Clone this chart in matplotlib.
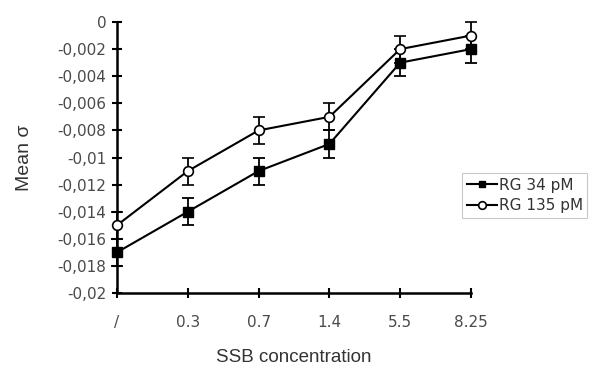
import numpy as np
from matplotlib import pyplot as plt
from matplotlib.lines import Line2D

categories = ['/', '0.3', '0.7', '1.4', '5.5', '8.25']
rg34 = [-0.017, -0.014, -0.011, -0.009, -0.003, -0.002]
rg34_err = [0.001, 0.001, 0.001, 0.001, 0.001, 0.001]
rg135 = [-0.015, -0.011, -0.008, -0.007, -0.002, -0.001]
rg135_err = [0.001, 0.001, 0.001, 0.001, 0.001, 0.001]
yticks = [0, -0.002, -0.004, -0.006, -0.008, -0.01, -0.012, -0.014, -0.016, -0.018, -0.02]
ytick_labels = ['0', '-0,002', '-0,004', '-0,006', '-0,008', '-0,01', '-0,012',
                '-0,014', '-0,016', '-0,018', '-0,02']

fig = plt.figure(figsize=(5.89, 3.67), dpi=100)
ax = fig.add_axes([0.1986, 0.2016, 0.601, 0.7384])

x = np.arange(len(categories))
ax.errorbar(x, rg34, yerr=rg34_err, color='black', marker='s', markersize=6.5,
            markerfacecolor='black', linewidth=1.5, elinewidth=1.3, capsize=4,
            capthick=1.3, clip_on=False, zorder=3)
ax.errorbar(x, rg135, yerr=rg135_err, color='black', marker='o', markersize=7,
            markerfacecolor='white', markeredgewidth=1.2, linewidth=1.5,
            elinewidth=1.3, capsize=4, capthick=1.3, clip_on=False, zorder=3)

ax.set_xlim(0, len(categories) - 1)
ax.set_ylim(-0.02, 0)
ax.set_xticks(x)
ax.set_xticklabels(categories)
ax.set_yticks(yticks)
ax.set_yticklabels(ytick_labels)

for s in ['top', 'right']:
    ax.spines[s].set_visible(False)
for s in ['left', 'bottom']:
    ax.spines[s].set_linewidth(1.8)
ax.tick_params(axis='both', direction='inout', length=7, width=1.5,
               labelsize=11, labelcolor='#4a4a4a')
ax.tick_params(axis='x', pad=12)
ax.tick_params(axis='y', pad=4)

ax.set_ylabel('Mean σ', fontsize=14, family='Liberation Sans', color='#333333', labelpad=18)
ax.set_xlabel('SSB concentration', fontsize=13.5, family='Liberation Sans', color='#333333', labelpad=14)

handles = [
    Line2D([], [], color='black', marker='s', markersize=5, linewidth=1.5),
    Line2D([], [], color='black', marker='o', markersize=5.5, markerfacecolor='white',
           markeredgewidth=1.2, linewidth=1.5),
]
leg = fig.legend(handles, ['RG 34 pM', 'RG 135 pM'], loc='upper left',
                 bbox_to_anchor=(462 / 589, 1 - 173 / 367),
                 frameon=True, fancybox=False, fontsize=11, handlelength=2.0,
                 handletextpad=0.1, borderpad=0.3, labelspacing=0.35, borderaxespad=0)
leg.get_frame().set_edgecolor('#bbbbbb')
leg.get_frame().set_linewidth(0.8)
for t in leg.get_texts():
    t.set_color('#333333')

plt.savefig('out.png', dpi=100)
